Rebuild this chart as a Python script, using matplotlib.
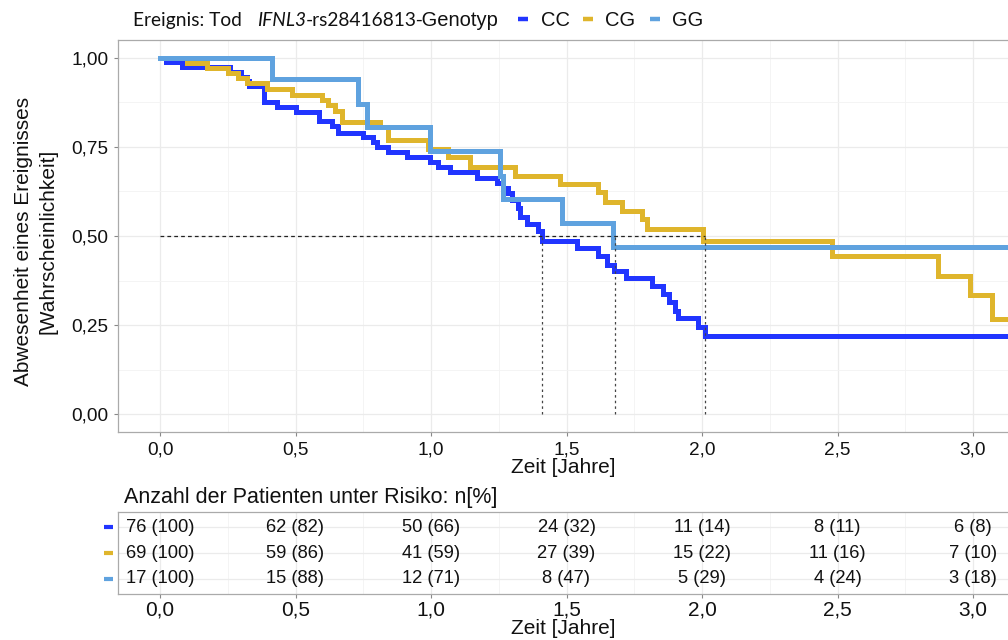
import numpy as np
import matplotlib.pyplot as plt
from matplotlib.lines import Line2D
from matplotlib.ticker import FuncFormatter, MultipleLocator
import matplotlib.transforms as mtransforms

plt.rcParams['font.family'] = ['Liberation Sans', 'DejaVu Sans']

# Kaplan-Meier steps (time in years, survival)
t_cc = [0, 0.022, 0.08, 0.26, 0.30, 0.32, 0.33, 0.385, 0.43, 0.50, 0.585, 0.635, 0.655,
        0.75, 0.785, 0.80, 0.84, 0.91, 0.995, 1.025, 1.07, 1.17, 1.245, 1.265, 1.285,
        1.30, 1.32, 1.33, 1.355, 1.395, 1.41, 1.54, 1.615, 1.65, 1.675, 1.72, 1.815,
        1.855, 1.88, 1.90, 1.91, 1.985, 2.01]
s_cc = [1.0, 0.987, 0.974, 0.961, 0.947, 0.934, 0.92, 0.876, 0.862, 0.848, 0.823, 0.809, 0.79,
        0.778, 0.764, 0.75, 0.736, 0.722, 0.708, 0.694, 0.68, 0.663, 0.649, 0.634, 0.62,
        0.60, 0.579, 0.553, 0.534, 0.514, 0.486, 0.466, 0.444, 0.42, 0.402, 0.382, 0.36,
        0.337, 0.315, 0.29, 0.27, 0.244, 0.22]

t_cg = [0, 0.10, 0.173, 0.251, 0.288, 0.32, 0.394, 0.487, 0.598, 0.62, 0.646, 0.671, 0.812,
        0.841, 0.989, 1.063, 1.144, 1.31, 1.476, 1.616, 1.642, 1.705, 1.779, 1.797, 2.004,
        2.48, 2.87, 2.99, 3.07]
s_cg = [1.0, 0.986, 0.971, 0.957, 0.942, 0.928, 0.913, 0.896, 0.882, 0.868, 0.851, 0.82, 0.806,
        0.77, 0.744, 0.722, 0.694, 0.669, 0.646, 0.623, 0.595, 0.57, 0.548, 0.52, 0.486,
        0.444, 0.388, 0.334, 0.267]

t_gg = [0, 0.413, 0.73, 0.763, 0.996, 1.255, 1.266, 1.483, 1.672]
s_gg = [1.0, 0.941, 0.87, 0.806, 0.739, 0.669, 0.604, 0.536, 0.469]

t_end = 3.2
medians = [1.41, 1.68, 2.01]

# risk table
risk_times = [0, 0.5, 1.0, 1.5, 2.0, 2.5, 3.0]
n_cc = [76, 62, 50, 24, 11, 8, 6]
p_cc = [100, 82, 66, 32, 14, 11, 8]
n_cg = [69, 59, 41, 27, 15, 11, 7]
p_cg = [100, 86, 59, 39, 22, 16, 10]
n_gg = [17, 15, 12, 8, 5, 4, 3]
p_gg = [100, 88, 71, 47, 29, 24, 18]

groups = ['CC', 'CG', 'GG']
colors = ['#2135FF', '#DFB52C', '#5FA2DF']

W, H = 1008, 640
fig = plt.figure(figsize=(W / 100, H / 100), dpi=100)


def box(l, t, r, b):
    return [l / W, 1 - b / H, (r - l) / W, (b - t) / H]


def fx(px):
    return px / W


def fy(py):
    return 1 - py / H


comma = FuncFormatter(lambda v, _: f"{v:.1f}".replace('.', ','))
comma2 = FuncFormatter(lambda v, _: f"{v:.2f}".replace('.', ','))
x0, x1 = (118 - 160) / 271, (1012 - 160) / 271

'''main plot'''
ax = fig.add_axes(box(118, 40, 1012, 432))
for t, s, c in zip([t_cc, t_cg, t_gg], [s_cc, s_cg, s_gg], colors):
    ax.step(t + [t_end], s + [s[-1]], where='post', color=c, lw=3.6, solid_joinstyle='miter')
ax.plot([0, max(medians)], [0.5, 0.5], color='#222222', lw=0.9, ls=(0, (3, 2.5)))
for m in medians:
    ax.plot([m, m], [0, 0.5], color='#444444', lw=0.9, ls=(0, (2, 2.5)))
ax.set_xlim(x0, x1)
ax.set_ylim(-0.05, 1.05)
ax.set_xticks(risk_times)
ax.set_yticks([0, 0.25, 0.5, 0.75, 1.0])
ax.xaxis.set_major_formatter(comma)
ax.yaxis.set_major_formatter(comma2)
ax.xaxis.set_minor_locator(MultipleLocator(0.25))
ax.yaxis.set_minor_locator(MultipleLocator(0.125))
ax.grid(which='major', color='#EBEBEB', lw=0.9)
ax.grid(which='minor', color='#F3F3F3', lw=0.6)
ax.set_axisbelow(True)
ax.tick_params(which='major', labelsize=13.7, length=3, width=0.8, color='#888888',
               labelcolor='#111111', pad=4)
ax.tick_params(which='minor', length=0)
for sp in ax.spines.values():
    sp.set_color('#AAAAAA')
    sp.set_linewidth(0.9)
fig.text(fx(563), fy(473), 'Zeit [Jahre]', fontsize=15, ha='center', va='baseline', color='#111111')
fig.text(fx(36), fy(241), 'Abwesenheit eines Ereignisses\n[Wahrscheinlichkeit]', fontsize=15,
         rotation=90, ha='center', va='center', linespacing=1.35, color='#111111')

'''legend on top'''
lato = ['Lato', 'DejaVu Sans']
fig.text(fx(133), fy(26), 'Ereignis: Tod', fontsize=13.8, family=lato,
         va='baseline', color='#111111')
t1 = fig.text(fx(257), fy(26), 'IFNL3', fontsize=13.8, family=lato,
              style='italic', va='baseline', color='#111111')
t2 = ax.annotate('-rs28416813', xy=(1, 0), xycoords=t1, fontsize=13.8, family=lato,
                 va='bottom', ha='left', color='#111111')
fig.canvas.draw()
end_px = t2.get_window_extent().x1
fig.text((end_px - 1.5) / W, fy(26), '-Genotyp', fontsize=14.5, va='baseline', color='#111111')
key_x = [518, 583, 650]
lab_x = [541, 605, 672]
for kx, lx, g, c in zip(key_x, lab_x, groups, colors):
    fig.add_artist(Line2D([fx(kx), fx(kx + 10)], [fy(19), fy(19)], color=c, lw=3.2,
                          solid_capstyle='butt', transform=fig.transFigure))
    fig.text(fx(lx), fy(26.5), g, fontsize=14.5, va='baseline', color='#111111')

'''risk table'''
tab = fig.add_axes(box(118, 512, 1012, 594))
rows = [(n_cc, p_cc, 3), (n_cg, p_cg, 2), (n_gg, p_gg, 1)]
for (n, p, row), c in zip(rows, colors):
    for t, ni, pi in zip(risk_times, n, p):
        tab.text(t, row, f"{ni} ({pi})", ha='center', va='center', fontsize=13.2, color='#111111')
tab.set_xlim(x0, x1)
tab.set_ylim(0.42, 3.58)
tab.set_xticks(risk_times)
tab.xaxis.set_major_formatter(comma)
tab.xaxis.set_minor_locator(MultipleLocator(0.25))
tab.set_yticks([1, 2, 3])
tab.set_yticklabels([])
tab.grid(which='major', color='#EBEBEB', lw=0.9)
tab.grid(which='minor', axis='x', color='#F3F3F3', lw=0.6)
tab.set_axisbelow(True)
tab.tick_params(axis='x', which='major', labelsize=15, length=3, width=0.8, color='#888888',
                labelcolor='#111111', pad=2)
tab.tick_params(axis='y', length=0)
tab.tick_params(which='minor', length=0)
for sp in tab.spines.values():
    sp.set_color('#AAAAAA')
    sp.set_linewidth(0.9)
trans = mtransforms.blended_transform_factory(tab.transAxes, tab.transData)
for (n, p, row), c in zip(rows, colors):
    tab.plot([-14 / 894, -5 / 894], [row, row], color=c, lw=3, transform=trans,
             clip_on=False, solid_capstyle='butt')
fig.text(fx(124), fy(503), 'Anzahl der Patienten unter Risiko: n[%]', fontsize=15.5,
         va='baseline', color='#111111')
fig.text(fx(563), fy(634), 'Zeit [Jahre]', fontsize=15, ha='center', va='baseline', color='#111111')

fig.savefig('out.png', dpi=100)
